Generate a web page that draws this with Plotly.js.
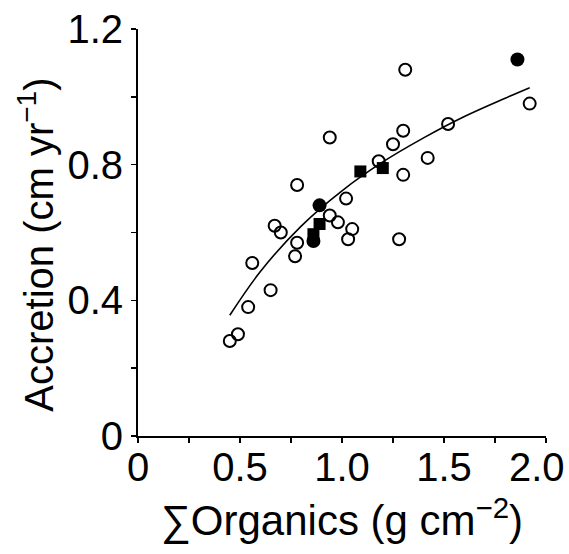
<!DOCTYPE html>
<html>
<head>
<meta charset="utf-8">
<script src="https://cdn.plot.ly/plotly-3.0.1.min.js"></script>
<style>html,body{margin:0;padding:0;background:#fff;}#chart{width:569px;height:554px;}</style>
</head>
<body>
<div id="chart"></div>
<script>
// Open circles
const openX = [0.45,0.49,0.54,0.56,0.65,0.67,0.70,0.77,0.78,0.78,0.94,0.94,0.98,1.02,1.03,1.05,1.18,1.25,1.30,1.30,1.28,1.31,1.42,1.52,1.92];
const openY = [0.28,0.30,0.38,0.51,0.43,0.62,0.60,0.53,0.57,0.74,0.88,0.65,0.63,0.70,0.58,0.61,0.81,0.86,0.90,0.77,0.58,1.08,0.82,0.92,0.98];
// Filled circles
const filledCircX = [1.86,0.89,0.86];
const filledCircY = [1.11,0.68,0.575];
// Filled squares
const squareX = [1.09,1.20,0.89,0.86];
const squareY = [0.78,0.79,0.625,0.595];
// Fitted curve
const curveX = [0.45,0.6,0.8,1.0,1.2,1.4,1.6,1.8,1.92];
const curveY = [0.356,0.485,0.619,0.723,0.808,0.879,0.942,0.996,1.027];
// Ticks (last x label "2.0" is drawn as an annotation so it stays inside the picture)
const xTickVals = [0,0.5,1.0,1.5];
const xTickText = ["0","0.5","1.0","1.5"];
const xMinorVals = [0.25,0.75,1.25,1.75,2.0];
const xLastTick = 2.0;
const xLastTickText = "2.0";
const yTickVals = [0,0.4,0.8,1.2];
const yTickText = ["0","0.4","0.8","1.2"];
const yMinorVals = [0.2,0.6,1.0];
const xTitle = '∑Organics (g cm<sup>−2</sup>)';
const yTitle = 'Accretion (cm yr<sup>−1</sup>)';

const FONT = "Liberation Sans, Arial, Helvetica, sans-serif";

const traces = [
  {x: curveX, y: curveY, mode: 'lines', line: {color: '#000', width: 1.6, shape: 'spline'}, hoverinfo: 'skip'},
  {x: openX, y: openY, mode: 'markers', marker: {symbol: 'circle-open', size: 12, color: '#000', line: {width: 2, color: '#000'}}},
  {x: filledCircX, y: filledCircY, mode: 'markers', marker: {symbol: 'circle', size: 14, color: '#000'}},
  {x: squareX, y: squareY, mode: 'markers', marker: {symbol: 'square', size: 12, color: '#000'}}
];

const layout = {
  width: 569, height: 554,
  margin: {l: 138, r: 23, t: 29, b: 118, pad: 0},
  paper_bgcolor: '#fff', plot_bgcolor: '#fff',
  showlegend: false,
  font: {family: FONT, color: '#000', size: 40},
  xaxis: {
    range: [0, 2.0], tickmode: 'array', tickvals: xTickVals, ticktext: xTickText,
    showgrid: false, zeroline: false, showline: true, linecolor: '#000', linewidth: 2,
    ticks: 'outside', ticklen: 5, tickwidth: 1.5, tickcolor: '#000',
    minor: {tickmode: 'array', tickvals: xMinorVals, ticks: 'outside', ticklen: 5, tickwidth: 1.5, tickcolor: '#000', showgrid: false},
    ticklabeloverflow: 'allow', ticklabelstandoff: -10,
    tickfont: {family: FONT, size: 40, color: '#000'},
    title: {text: xTitle, font: {family: FONT, size: 42, color: '#000'}, standoff: 18},
    automargin: false
  },
  yaxis: {
    range: [0, 1.2], tickmode: 'array', tickvals: yTickVals, ticktext: yTickText,
    showgrid: false, zeroline: false, showline: true, linecolor: '#000', linewidth: 2,
    ticks: 'outside', ticklen: 5, tickwidth: 1.5, tickcolor: '#000',
    minor: {tickmode: 'array', tickvals: yMinorVals, ticks: 'outside', ticklen: 5, tickwidth: 1.5, tickcolor: '#000', showgrid: false},
    ticklabeloverflow: 'allow',
    tickfont: {family: FONT, size: 40, color: '#000'},
    automargin: false
  },
  annotations: [
    {text: xLastTickText, x: xLastTick, xref: 'x', y: 0, yref: 'paper', xanchor: 'right', yanchor: 'top',
     xshift: 21, yshift: -7, showarrow: false, font: {family: FONT, size: 40, color: '#000'}},
    {text: yTitle, x: -0.25, xref: 'paper', y: 0.47, yref: 'paper', xanchor: 'center', yanchor: 'middle',
     textangle: -90, showarrow: false, font: {family: FONT, size: 40, color: '#000'}}
  ]
};

Plotly.newPlot('chart', traces, layout, {staticPlot: true, displayModeBar: false});
</script>
</body>
</html>
